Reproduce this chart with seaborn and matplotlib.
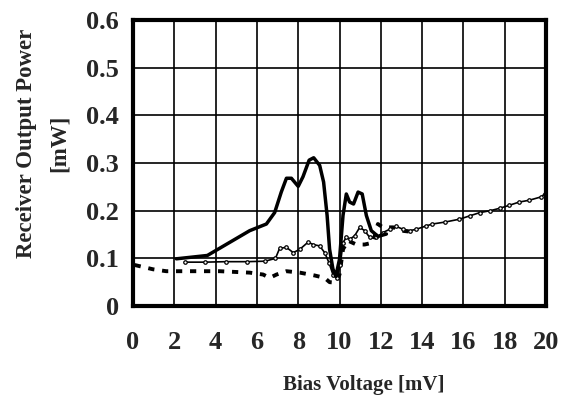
import matplotlib
matplotlib.use("Agg")
import matplotlib.pyplot as plt
import seaborn as sns

# --- data (bias voltage in mV, power in mW) ---
solid_x = [2.1, 3.6, 5.65, 6.46, 6.86, 7.18, 7.43, 7.67, 8.0, 8.23, 8.53, 8.75,
           9.04, 9.23, 9.4, 9.52, 9.68, 9.82, 10.0, 10.17, 10.33, 10.49, 10.68,
           10.9, 11.1, 11.3, 11.54, 11.87, 12.27]
solid_y = [0.099, 0.106, 0.158, 0.172, 0.196, 0.239, 0.268, 0.268, 0.251, 0.271,
           0.306, 0.311, 0.295, 0.26, 0.19, 0.119, 0.078, 0.062, 0.098, 0.19,
           0.235, 0.218, 0.214, 0.239, 0.235, 0.19, 0.158, 0.146, 0.151]

thin_x = [2.5, 3.5, 4.5, 5.5, 6.4, 6.9, 7.1, 7.43, 7.76, 8.08, 8.48, 8.72, 9.04,
          9.28, 9.49, 9.68, 9.88, 10.04, 10.17, 10.33, 10.49, 10.73, 10.98,
          11.22, 11.46, 11.79, 12.1, 12.43, 12.75, 13.07, 13.4, 13.72, 14.2,
          14.5, 15.1, 15.8, 16.3, 16.8, 17.3, 17.76, 18.2, 18.7, 19.2, 19.77,
          19.95]
thin_y = [0.092, 0.092, 0.093, 0.093, 0.094, 0.1, 0.121, 0.123, 0.112, 0.119,
          0.134, 0.129, 0.126, 0.112, 0.091, 0.066, 0.059, 0.087, 0.133, 0.144,
          0.14, 0.147, 0.165, 0.158, 0.144, 0.144, 0.154, 0.161, 0.167, 0.161,
          0.158, 0.161, 0.168, 0.172, 0.176, 0.182, 0.189, 0.196, 0.2, 0.205,
          0.211, 0.218, 0.222, 0.229, 0.236]

dash_x = [0.08, 0.97, 1.61, 2.9, 4.2, 5.65, 6.3, 6.62, 6.95, 7.43, 8.08, 8.8,
          9.28, 9.52, 9.81, 10.0, 10.17, 10.41, 10.82, 11.22, 11.62, 11.86,
          12.1, 12.6, 13.0, 13.4]
dash_y = [0.086, 0.077, 0.073, 0.073, 0.073, 0.07, 0.066, 0.059, 0.066, 0.073,
          0.07, 0.064, 0.059, 0.05, 0.049, 0.066, 0.119, 0.137, 0.129, 0.129,
          0.133, 0.172, 0.165, 0.165, 0.158, 0.156]

x_ticks = list(range(0, 21, 2))
y_ticks = [0, 0.1, 0.2, 0.3, 0.4, 0.5, 0.6]
y_tick_labels = ["0", "0.1", "0.2", "0.3", "0.4", "0.5", "0.6"]

sns.set_style("white")
plt.rcParams['font.family'] = ['Liberation Serif', 'DejaVu Serif']
plt.rcParams['font.weight'] = 'bold'

fig = plt.figure(figsize=(5.64, 4.0), dpi=100)
ax = fig.add_axes([133 / 564, 1 - 306 / 400, (546 - 133) / 564, (306 - 20) / 400])

sns.lineplot(x=dash_x, y=dash_y, ax=ax, color='black', linewidth=2.8,
             linestyle=(0, (1.6, 2.0)), sort=False)
sns.lineplot(x=thin_x, y=thin_y, ax=ax, color='black', linewidth=1.2,
             marker='o', markersize=2.5, markerfacecolor='white',
             markeredgecolor='black', markeredgewidth=0.9, sort=False)
sns.lineplot(x=solid_x, y=solid_y, ax=ax, color='black', linewidth=2.5,
             sort=False)

ax.set_xlim(0, 20)
ax.set_ylim(0, 0.6)
ax.set_xticks(x_ticks)
ax.set_xticklabels([str(v) for v in x_ticks])
ax.set_yticks(y_ticks)
ax.set_yticklabels(y_tick_labels)
ax.grid(True, color='black', linewidth=1.2)
ax.set_axisbelow(True)
for side in ax.spines.values():
    side.set_visible(True)
    side.set_color('black')
    side.set_linewidth(3)
ax.tick_params(axis='both', length=0, labelsize=19)
ax.tick_params(axis='x', pad=18)
ax.tick_params(axis='y', pad=10)
for lab in ax.get_xticklabels() + ax.get_yticklabels():
    lab.set_fontweight('bold')
ax.set_xlabel('')
ax.set_ylabel('')

fig.text(43 / 564, 1 - 143 / 400, 'Receiver Output Power\n[mW]', rotation=90,
         ha='center', va='center', multialignment='center', fontsize=16.5,
         fontweight='bold', linespacing=1.75)
fig.text(364 / 564, 1 - 385 / 400, 'Bias Voltage [mV]', ha='center',
         va='center', fontsize=15, fontweight='bold')

plt.savefig('out.png', dpi=100)
plt.close()
